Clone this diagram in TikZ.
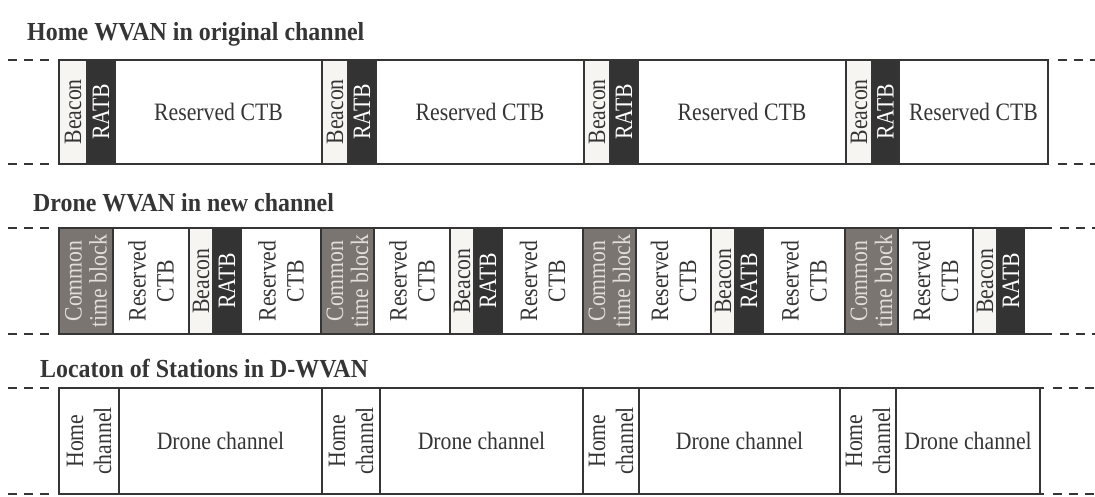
\documentclass[tikz,border=0pt]{standalone}
\usepackage{fontspec}
\setmainfont{Liberation Serif}[FakeStretch=0.87]
\newfontfamily\titlefont{Liberation Serif}[FakeStretch=0.92]
\definecolor{ink}{HTML}{353535}
\definecolor{bcn}{HTML}{F6F5F2}
\definecolor{ratb}{HTML}{333333}
\definecolor{ctb}{HTML}{7B7571}
\definecolor{ctbtxt}{HTML}{E2DEDA}
\tikzset{
  edge/.style={draw=ink, line width=2pt},
  dashedge/.style={draw=ink, line width=2pt, dash pattern=on 9pt off 7pt},
  ttl/.style={anchor=base west, inner sep=0pt, text=ink, font=\titlefont\bfseries\fontsize{26}{30}\selectfont},
  hz/.style={inner sep=0pt, text=ink, font=\fontsize{25}{28}\selectfont},
  vt/.style={rotate=90, inner sep=0pt, text=ink, align=center, font=\fontsize{25}{28}\selectfont},
  vtw/.style={vt, text=white},
  vtg/.style={rotate=90, inner sep=0pt, text=ctbtxt, align=center, font=\fontsize{25}{25}\selectfont},
}
\begin{document}
\begin{tikzpicture}[x=1pt,y=-1pt]
\useasboundingbox (0,0) rectangle (1095,496);
% titles
\node[ttl] (t1) at (27,40) {Home WVAN in original channel};
\node[ttl] (t2) at (33,211) {Drone WVAN in new channel};
\node[ttl] (t3) at (40,377) {Locaton of Stations in D-WVAN};

% ---------- Row 1 ----------
\def\ta{59.5}\def\tb{164}
\foreach \a/\b/\f/\s/\t [count=\i] in {
  59/87/bcn/vt/Beacon, 87/115/ratb/vtw/RATB, 115/322/white/hz/Reserved CTB,
  322/348/bcn/vt/Beacon, 348/376/ratb/vtw/RATB, 376/584/white/hz/Reserved CTB,
  584/610/bcn/vt/Beacon, 610/638/ratb/vtw/RATB, 638/846/white/hz/Reserved CTB,
  846/872/bcn/vt/Beacon, 872/899/ratb/vtw/RATB, 899/1048/white/hz/Reserved CTB}{
  \fill[\f] (\a,\ta) rectangle (\b,\tb);
  \node[\s] (a\i) at ({(\a+\b)/2},{(\ta+\tb)/2}) {\t};
  \draw[edge] (\a,\ta) -- (\a,\tb);
}
\draw[edge] (1048,\ta) -- (1048,\tb);
\draw[edge] (58,\ta) -- (1049,\ta);
\draw[edge] (58,\tb) -- (1049,\tb);
\draw[dashedge] (8,\ta) -- (55,\ta);
\draw[dashedge] (8,\tb) -- (55,\tb);
\draw[dashedge] (1058,\ta) -- (1095,\ta);
\draw[dashedge] (1058,\tb) -- (1095,\tb);

% ---------- Row 2 ----------
\def\ua{228}\def\ub{334}
\foreach \a/\b/\f/\s/\t [count=\i] in {
  59/113/ctb/vtg/{Common\\time block}, 113/189/white/vt/{Reserved\\CTB}, 189/213/bcn/vt/Beacon, 213/241/ratb/vtw/RATB, 241/321/white/vt/{Reserved\\CTB},
  321/374/ctb/vtg/{Common\\time block}, 374/450/white/vt/{Reserved\\CTB}, 450/474/bcn/vt/Beacon, 474/502/ratb/vtw/RATB, 502/583/white/vt/{Reserved\\CTB},
  583/636/ctb/vtg/{Common\\time block}, 636/711/white/vt/{Reserved\\CTB}, 711/735/bcn/vt/Beacon, 735/763/ratb/vtw/RATB, 763/845/white/vt/{Reserved\\CTB},
  845/898/ctb/vtg/{Common\\time block}, 898/973/white/vt/{Reserved\\CTB}, 973/997/bcn/vt/Beacon, 997/1025/ratb/vtw/RATB}{
  \fill[\f] (\a,\ua) rectangle (\b,\ub);
  \node[\s] (b\i) at ({(\a+\b)/2},{(\ua+\ub)/2}) {\t};
  \draw[edge] (\a,\ua) -- (\a,\ub);
}
\draw[edge] (58,\ua) -- (1052,\ua);
\draw[edge] (58,\ub) -- (1052,\ub);
\draw[dashedge] (8,\ua) -- (55,\ua);
\draw[dashedge] (8,\ub) -- (55,\ub);
\draw[dashedge] (1060,\ua) -- (1095,\ua);
\draw[dashedge] (1060,\ub) -- (1095,\ub);

% ---------- Row 3 ----------
\def\va{388}\def\vb{494}
\foreach \a/\b/\s/\t [count=\i] in {
  59/119/vt/{Home\\channel}, 119/322/hz/Drone channel,
  322/380/vt/{Home\\channel}, 380/583/hz/Drone channel,
  583/639/vt/{Home\\channel}, 639/840/hz/Drone channel,
  840/896/vt/{Home\\channel}, 896/1040/hz/Drone channel}{
  \node[\s] (c\i) at ({(\a+\b)/2},{(\va+\vb)/2}) {\t};
  \draw[edge] (\a,\va) -- (\a,\vb);
}
\draw[edge] (1040,\va) -- (1040,\vb);
\draw[edge] (58,\va) -- (1044,\va);
\draw[edge] (58,\vb) -- (1044,\vb);
\draw[dashedge] (8,\va) -- (55,\va);
\draw[dashedge] (8,\vb) -- (55,\vb);
\draw[dashedge] (1053,\va) -- (1095,\va);
\draw[dashedge] (1053,\vb) -- (1095,\vb);
\end{tikzpicture}
\end{document}
